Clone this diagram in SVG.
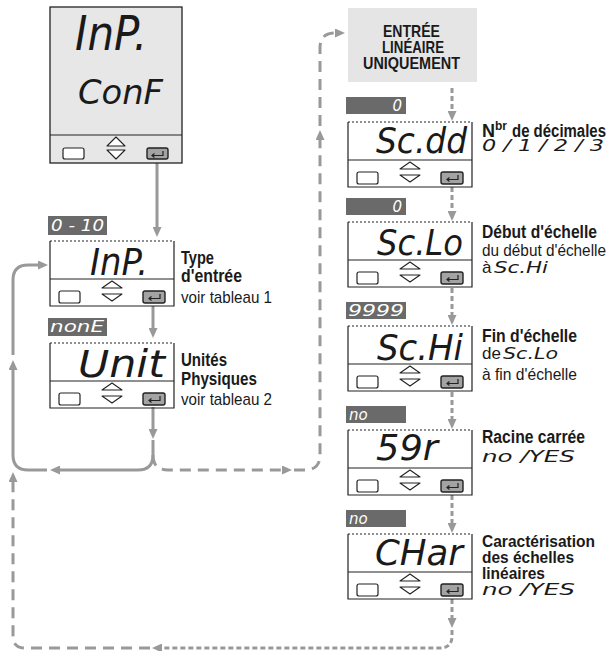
<svg xmlns="http://www.w3.org/2000/svg" xmlns:xlink="http://www.w3.org/1999/xlink" width="610" height="651" viewBox="0 0 610 651">
<style>
.frame{fill:none;stroke:#222;stroke-width:1.2}
.dtop{stroke:#222;stroke-width:1.2;stroke-dasharray:2 2}
.btn{fill:#fff;stroke:#222;stroke-width:1.2}
.ent{fill:#a3a3a3;stroke:#222;stroke-width:1.4}
.tri{fill:#fff;stroke:#222;stroke-width:1.1;stroke-linejoin:round}
.seg{font-family:"DejaVu Sans","DejaVu Sans Mono",monospace;font-weight:200;font-style:italic;fill:#1a1a1a}
.lab{fill:#6a6a6a}
.labt{font-family:"DejaVu Sans","DejaVu Sans Mono",monospace;font-weight:200;font-style:italic;font-size:15px;fill:#fff}
.b{font-family:"Liberation Sans",Arial,sans-serif;font-weight:bold;font-size:18px;fill:#1a1a1a}
.bs{font-family:"Liberation Sans",Arial,sans-serif;font-weight:bold;font-size:17px;fill:#1a1a1a}
.h{font-family:"Liberation Sans",Arial,sans-serif;font-weight:bold;font-size:16.5px;fill:#1a1a1a}
.r{font-family:"Liberation Sans",Arial,sans-serif;font-size:17px;fill:#1a1a1a}
.sm{font-family:"DejaVu Sans","DejaVu Sans Mono",monospace;font-weight:200;font-style:italic;font-size:16px;fill:#1a1a1a}
.solid{fill:none;stroke:#999;stroke-width:3}
.ld{fill:none;stroke:#999;stroke-width:3;stroke-dasharray:11 7}
.sd{fill:none;stroke:#999;stroke-width:3;stroke-dasharray:5 3}
</style>
<defs>
<marker id="ah" markerUnits="userSpaceOnUse" markerWidth="10" markerHeight="9" refX="2" refY="4.5" orient="auto" viewBox="0 0 10 9">
<path d="M0,0 L10,4.5 L0,9 z" fill="#999"/>
</marker>
<g id="keys">
<rect class="btn" x="9" y="50" width="21" height="12" rx="2"/>
<polygon class="tri" points="52,47 62,40 72,47"/>
<polygon class="tri" points="52,53 72,53 62,60"/>
<rect class="ent" x="93" y="50" width="22" height="12" rx="2"/>
<path d="M110,53 V57.5 H99 M101.5,55.5 L99,57.5 L101.5,59.5" fill="none" stroke="#222" stroke-width="1.2"/>
</g>
<g id="panel">
<line class="dtop" x1="0" y1="0" x2="124" y2="0"/>
<path class="frame" d="M0,0 V65 H124 V0"/>
<line class="frame" x1="0" y1="38" x2="124" y2="38"/>
<use xlink:href="#keys"/>
</g>
</defs>

<g id="connectors">
<path class="solid" d="M157,163 V229" marker-end="url(#ah)"/>
<path class="solid" d="M153,306 V330" marker-end="url(#ah)"/>
<path class="solid" d="M153,407 V431" marker-end="url(#ah)"/>
<path class="solid" d="M153,440 V455 Q153,470 138,470 H58" marker-end="url(#ah)"/>
<path class="solid" d="M47,470 H28 Q13,470 13,455 V368" marker-end="url(#ah)"/>
<path class="solid" d="M13,355 V280 Q13,265 28,265 H40" marker-end="url(#ah)"/>
<path class="ld" d="M153,455 Q153,470 168,470 H284" marker-end="url(#ah)"/>
<path class="ld" d="M294,470 H305 Q320,470 320,455 V138" marker-end="url(#ah)"/>
<path class="ld" d="M320,126 V48 Q320,33 335,33 H337" marker-end="url(#ah)"/>
<path class="sd" d="M452,88 V113" marker-end="url(#ah)"/>
<path class="sd" d="M452,187 V213" marker-end="url(#ah)"/>
<path class="sd" d="M452,288 V317" marker-end="url(#ah)"/>
<path class="sd" d="M452,392 V421" marker-end="url(#ah)"/>
<path class="sd" d="M452,495 V525" marker-end="url(#ah)"/>
<path class="sd" d="M452,599 V620" marker-end="url(#ah)"/>
<path class="sd" d="M452,630 V636 Q452,648 440,648 H160" marker-end="url(#ah)"/>
<path class="ld" d="M150,648 H25 Q13,648 13,636 V480" marker-end="url(#ah)"/>
</g>

<g id="conf">
<rect x="50" y="7" width="132" height="156" fill="#e7e7e7" stroke="#222" stroke-width="1.3"/>
<line x1="50" y1="135" x2="182" y2="135" stroke="#222" stroke-width="1.2"/>
<rect class="btn" x="63" y="148" width="21" height="11" rx="2"/>
<polygon class="tri" points="107,146 116,137 125,146"/>
<polygon class="tri" points="107,150 125,150 116,159"/>
<rect class="ent" x="147" y="148" width="21" height="11" rx="2"/>
<path d="M163,151 V155.5 H152 M154.5,153.5 L152,155.5 L154.5,157.5" fill="none" stroke="#222" stroke-width="1.2"/>
<text class="seg" x="75" y="50" font-size="48" textLength="72" lengthAdjust="spacingAndGlyphs">InP.</text>
<text class="seg" x="78" y="104" font-size="34" textLength="85" lengthAdjust="spacingAndGlyphs">ConF</text>
</g>

<g id="inp">
<rect class="lab" x="48" y="216" width="59" height="19"/>
<text class="labt" x="51" y="231" textLength="53" lengthAdjust="spacingAndGlyphs">0 - 10</text>
<use xlink:href="#panel" x="50" y="241"/>
<text class="seg" x="90" y="275" font-size="37" textLength="58" lengthAdjust="spacingAndGlyphs">InP.</text>
<text class="b" x="181" y="264" textLength="33" lengthAdjust="spacingAndGlyphs">Type</text>
<text class="b" x="181" y="282" textLength="61" lengthAdjust="spacingAndGlyphs">d'entrée</text>
<text class="r" x="181" y="303" textLength="91" lengthAdjust="spacingAndGlyphs">voir tableau 1</text>
</g>

<g id="unit">
<rect class="lab" x="48" y="318" width="59" height="18"/>
<text class="labt" x="50" y="332" textLength="54" lengthAdjust="spacingAndGlyphs">nonE</text>
<use xlink:href="#panel" x="50" y="343"/>
<text class="seg" x="78" y="377" font-size="37" textLength="87" lengthAdjust="spacingAndGlyphs">Unit</text>
<text class="b" x="181" y="366" textLength="46" lengthAdjust="spacingAndGlyphs">Unités</text>
<text class="b" x="181" y="385" textLength="76" lengthAdjust="spacingAndGlyphs">Physiques</text>
<text class="r" x="181" y="405" textLength="91" lengthAdjust="spacingAndGlyphs">voir tableau 2</text>
</g>

<g id="lin">
<rect x="348" y="8" width="129" height="74" fill="#e5e5e5"/>
<text class="h" x="383" y="37" textLength="57" lengthAdjust="spacingAndGlyphs">ENTRÉE</text>
<text class="h" x="382" y="53" textLength="62" lengthAdjust="spacingAndGlyphs">LINÉAIRE</text>
<text class="h" x="363" y="69" textLength="97" lengthAdjust="spacingAndGlyphs">UNIQUEMENT</text>
</g>

<g id="scdd">
<rect class="lab" x="346" y="97" width="60" height="17"/>
<text class="labt" x="402" y="111" text-anchor="end">0</text>
<use xlink:href="#panel" x="348" y="122"/>
<text class="seg" x="376" y="153" font-size="36" textLength="91" lengthAdjust="spacingAndGlyphs">Sc.dd</text>
<text class="b" x="482" y="137">N<tspan font-size="12" dy="-7">br</tspan></text>
<text class="b" x="512" y="137" textLength="94" lengthAdjust="spacingAndGlyphs">de décimales</text>
<text class="sm" x="482" y="151" textLength="122" lengthAdjust="spacingAndGlyphs">0 / 1 / 2 / 3</text>
</g>

<g id="sclo">
<rect class="lab" x="346" y="198" width="60" height="17"/>
<text class="labt" x="402" y="212" text-anchor="end">0</text>
<use xlink:href="#panel" x="348" y="222"/>
<text class="seg" x="377" y="255" font-size="36" textLength="86" lengthAdjust="spacingAndGlyphs">Sc.Lo</text>
<text class="b" x="482" y="238" textLength="115" lengthAdjust="spacingAndGlyphs">Début d'échelle</text>
<text class="r" x="482" y="256" textLength="124" lengthAdjust="spacingAndGlyphs">du début d'échelle</text>
<text class="r" x="482" y="273">à</text>
<text class="sm" x="494" y="273" font-size="15" textLength="54" lengthAdjust="spacingAndGlyphs">Sc.Hi</text>
</g>

<g id="schi">
<rect class="lab" x="346" y="302" width="60" height="17"/>
<text class="labt" x="348" y="316" textLength="56" lengthAdjust="spacingAndGlyphs">9999</text>
<use xlink:href="#panel" x="348" y="326"/>
<text class="seg" x="377" y="360" font-size="36" textLength="86" lengthAdjust="spacingAndGlyphs">Sc.Hi</text>
<text class="b" x="482" y="342" textLength="95" lengthAdjust="spacingAndGlyphs">Fin d'échelle</text>
<text class="r" x="482" y="359">de</text>
<text class="sm" x="503" y="359" font-size="15" textLength="55" lengthAdjust="spacingAndGlyphs">Sc.Lo</text>
<text class="r" x="482" y="380" textLength="95" lengthAdjust="spacingAndGlyphs">à fin d'échelle</text>
</g>

<g id="sqr">
<rect class="lab" x="346" y="406" width="60" height="17"/>
<text class="labt" x="349" y="420">no</text>
<use xlink:href="#panel" x="348" y="430"/>
<text class="seg" x="376" y="460" font-size="36" textLength="62" lengthAdjust="spacingAndGlyphs">59r</text>
<text class="b" x="482" y="443" textLength="103" lengthAdjust="spacingAndGlyphs">Racine carrée</text>
<text class="sm" x="482" y="462" textLength="93" lengthAdjust="spacingAndGlyphs">no /YES</text>
</g>

<g id="char">
<rect class="lab" x="346" y="510" width="60" height="17"/>
<text class="labt" x="349" y="524">no</text>
<use xlink:href="#panel" x="348" y="534"/>
<text class="seg" x="375" y="565" font-size="36" textLength="88" lengthAdjust="spacingAndGlyphs">CHar</text>
<text class="bs" x="482" y="547" textLength="113" lengthAdjust="spacingAndGlyphs">Caractérisation</text>
<text class="bs" x="482" y="563" textLength="92" lengthAdjust="spacingAndGlyphs">des échelles</text>
<text class="bs" x="482" y="579" textLength="63" lengthAdjust="spacingAndGlyphs">linéaires</text>
<text class="sm" x="482" y="595" textLength="93" lengthAdjust="spacingAndGlyphs">no /YES</text>
</g>
</svg>
